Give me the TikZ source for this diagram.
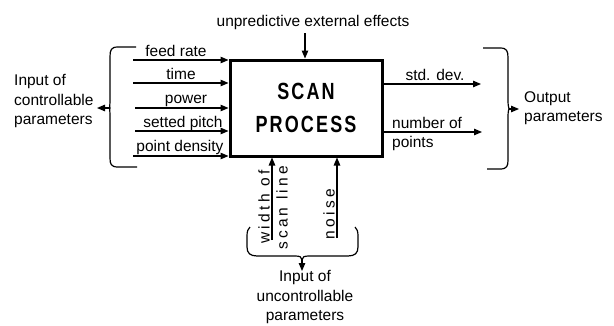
\documentclass[tikz,border=0pt]{standalone}
\usepackage{fontspec}
\usepackage{graphicx}
\setmainfont{Liberation Sans}
\usetikzlibrary{arrows.meta}
\begin{document}
\begin{tikzpicture}[x=1pt,y=-1pt,
  lbl/.style={inner sep=0pt, font=\fontsize{15.5}{19.5}\selectfont},
  rlbl/.style={inner sep=0pt, rotate=90, font=\fontsize{15.5}{17}\selectfont\addfontfeatures{LetterSpace=21}},
  arr/.style={line width=1.2pt, -{Triangle[length=8pt,width=6.5pt]}},
  brace/.style={line width=1.2pt},
  procbox/.style={draw, line width=3pt, minimum width=152pt, minimum height=96pt, inner sep=0pt},
]
\useasboundingbox (0,0) rectangle (614,325);
\fill[white] (0,0) rectangle (614,325);

% process box
\node[procbox] (box) at (306,108) {};
\node[inner sep=0pt, align=center, font=\fontsize{18}{33}\selectfont\bfseries\addfontfeatures{LetterSpace=12}] (title) at (box.center)
  {\scalebox{1}[1.3]{SCAN}\\\scalebox{1}[1.3]{PROCESS}};

% top input
\node[lbl] (ext) at (313,22) {unpredictive external effects};
\coordinate (t0) at (305,33);
\draw[arr] (t0) -- (t0 |- box.north);

% controllable inputs
\coordinate (s1) at (133,60);
\coordinate (s2) at (133,83);
\coordinate (s3) at (135,108);
\coordinate (s4) at (135,131);
\coordinate (s5) at (133,156);
\foreach \i in {1,...,5} { \draw[arr] (s\i) -- (s\i -| box.west); }
\node[lbl, anchor=base] (l1) at (176,56) {feed rate};
\node[lbl, anchor=base] (l2) at (181,79) {time};
\node[lbl, anchor=base] (l3) at (186,103) {power};
\node[lbl, anchor=base] (l4) at (183,127) {setted pitch};
\node[lbl, anchor=base] (l5) at (180,151) {point density};

% left brace
\coordinate (lbt) at (136,47);
\coordinate (lbb) at (137,167);
\coordinate (lbm) at (110,108);
\coordinate (lbtip) at (97,108);
\draw[brace] (lbt) -- (118,47) .. controls (111,47) and (110,50) .. (110,57) -- (110,101)
  .. controls (110,106) and (109,108) .. (lbm);
\draw[brace] (lbb) -- (118,167) .. controls (111,167) and (110,164) .. (110,158) -- (110,115)
  .. controls (110,110) and (109,108) .. (lbm);
\draw[arr] (lbm) -- (lbtip);
\node[lbl, align=left, anchor=west] (inc) at (14,101) {Input of\\controllable\\parameters};

% outputs
\coordinate (o1) at (481,84);
\coordinate (o2) at (482,132);
\draw[arr] (o1 -| box.east) -- (o1);
\draw[arr] (o2 -| box.east) -- (o2);
\node[lbl, anchor=base] (sd) at (435,80) {std. dev.};
\node[lbl, align=left, anchor=west] (np) at (392,134) {number of\\points};

% right brace
\coordinate (rbt) at (483,48);
\coordinate (rbb) at (487,169);
\coordinate (rbm) at (509,109);
\coordinate (rbtip) at (519,109);
\draw[brace] (rbt) -- (500,48) .. controls (507,48) and (508,51) .. (508,58) -- (508,101)
  .. controls (508,106) and (509,108) .. (rbm);
\draw[brace] (rbb) -- (500,169) .. controls (507,169) and (508,166) .. (508,160) -- (508,116)
  .. controls (508,111) and (509,109) .. (rbm);
\draw[arr] (rbm) -- (rbtip);
\node[lbl, align=left, anchor=west] (outp) at (524,108) {Output\\parameters};

% uncontrollable inputs
\coordinate (w0) at (272,240);
\coordinate (n0) at (337,238);
\draw[arr] (w0) -- (w0 |- box.south);
\draw[arr] (n0) -- (n0 |- box.south);
\node[rlbl] (wid) at (264,207) {width of};
\node[rlbl] (scl) at (282,208) {scan line};
\node[rlbl] (noi) at (329,214) {noise};

% bottom brace
\coordinate (bbl) at (250,227);
\coordinate (bbr) at (355,227);
\coordinate (bbm) at (302,260);
\coordinate (bbtip) at (302,271);
\draw[brace] (bbl) .. controls (248,229) and (247,231) .. (247,236) -- (247,247)
  .. controls (247,253) and (250,256) .. (257,256) -- (295,256) .. controls (300,256) and (302,257) .. (bbm);
\draw[brace] (bbr) .. controls (357,229) and (358,231) .. (358,236) -- (358,247)
  .. controls (358,253) and (355,256) .. (348,256) -- (309,256) .. controls (304,256) and (302,257) .. (bbm);
\draw[arr] (bbm) -- (bbtip);
\node[lbl, align=center] (unc) at (305,297) {Input of\\uncontrollable\\parameters};
\end{tikzpicture}
\end{document}
